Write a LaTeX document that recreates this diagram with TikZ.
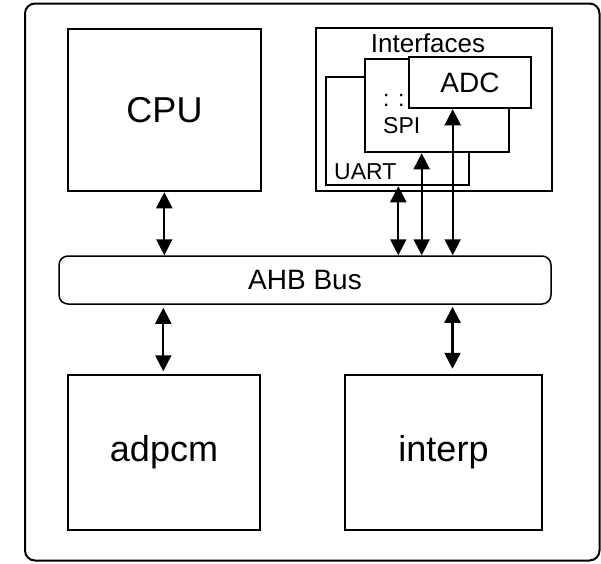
\documentclass[tikz,border=0pt]{standalone}
\usepackage{fontspec}
\setmainfont{Liberation Sans}
\usetikzlibrary{arrows.meta}
\begin{document}
\begin{tikzpicture}[x=1pt,y=-1pt,
  block/.style={draw, line width=2.5pt, fill=white, inner sep=0pt},
  bigtext/.style={font=\fontsize{36}{40}\selectfont},
  smalltext/.style={font=\fontsize{23}{26}\selectfont, inner sep=0pt},
  biarrow/.style={line width=2.2pt, {Triangle[length=16pt,width=16pt]}-{Triangle[length=16pt,width=16pt]}}]
\useasboundingbox (0,0) rectangle (601,563);

% chip outline
\node[draw, line width=2pt, rounded corners=10pt, minimum width=574.5pt,
      minimum height=557pt, inner sep=0pt] (soc) at (312.25,282) {};

% main blocks
\node[block, bigtext, minimum width=193pt, minimum height=162pt] (cpu) at (164.5,110) {CPU};
\node[block, bigtext, minimum width=192pt, minimum height=155pt] (adpcm) at (164,452.5) {adpcm};
\node[block, bigtext, minimum width=197pt, minimum height=155pt] (interp) at (443.5,452.5) {interp};

% system bus
\node[draw, line width=1.5pt, rounded corners=9pt, minimum width=492pt, minimum height=48pt,
      inner sep=0pt, font=\fontsize{28}{30}\selectfont] (bus) at (305,280) {AHB Bus};

% peripheral interfaces, stacked
\node[block, line width=2.7pt, minimum width=236pt, minimum height=163pt] (ifaces) at (434,109.5) {};
\node[anchor=base, inner sep=0pt, font=\fontsize{26}{28}\selectfont] (iflabel) at (428,52) {Interfaces};
\node[block, minimum width=143pt, minimum height=108pt] (uart) at (397.5,131) {};
\node[block, minimum width=144pt, minimum height=93pt] (spi) at (437,105.5) {};
\node[block, minimum width=122pt, minimum height=51pt, font=\fontsize{28}{30}\selectfont] (adc) at (470,82.5) {ADC};
\node[smalltext, anchor=base west] (uartlabel) at (334,179) {UART};
\node[smalltext, anchor=base west] (spilabel) at (383,133) {SPI};
\node[smalltext, anchor=base west] (dots) at (383,106) {: :};

% connector columns
\coordinate (xcpu) at (164.3,0);
\coordinate (xadpcm) at (163.3,0);
\coordinate (xuart) at (398.3,0);
\coordinate (xspi) at (421.7,0);
\coordinate (xadc) at (452.7,0);
\coordinate (xinterp) at (452.5,0);

% bus connections
\draw[biarrow] (cpu.south -| xcpu) -- (bus.north -| xcpu);
\draw[biarrow, shorten <=3pt, shorten >=2.5pt] (bus.south -| xadpcm) -- (adpcm.north -| xadpcm);
\draw[biarrow, shorten <=2pt, shorten >=5pt] (bus.south -| xinterp) -- (interp.north -| xinterp);
\draw[biarrow] (uart.south -| xuart) -- (bus.north -| xuart);
\draw[biarrow] (spi.south -| xspi) -- (bus.north -| xspi);
\draw[biarrow] (adc.south -| xadc) -- (bus.north -| xadc);
\end{tikzpicture}
\end{document}
